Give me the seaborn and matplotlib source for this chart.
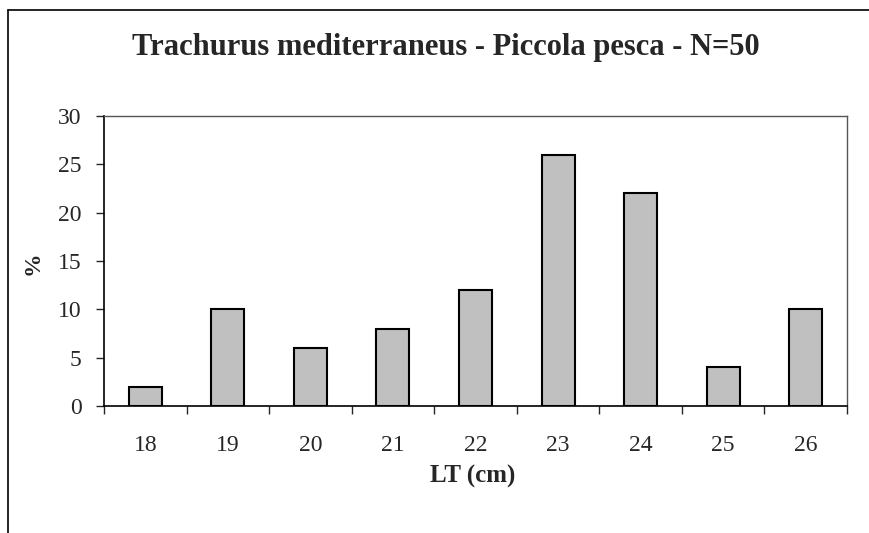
import matplotlib
matplotlib.use('Agg')
import matplotlib.pyplot as plt
import seaborn as sns
import pandas as pd
from matplotlib.lines import Line2D

lunghezze = ['18', '19', '20', '21', '22', '23', '24', '25', '26']
percentuali = [2, 10, 6, 8, 12, 26, 22, 4, 10]

df = pd.DataFrame({'LT': lunghezze, 'perc': percentuali})

sns.set_style('white')
plt.rcParams['font.family'] = ['Liberation Serif', 'DejaVu Serif']

fig = plt.figure(figsize=(8.69, 5.33), dpi=100)
ax = fig.add_axes([104 / 869, 127 / 533, 743 / 869, 290 / 533])

sns.barplot(data=df, x='LT', y='perc', color='#C0C0C0', edgecolor='black',
            linewidth=1.5, width=0.4, saturation=1, ax=ax)

ax.set_xlim(-0.5, len(lunghezze) - 0.5)
ax.set_ylim(0, 30)
ax.set_yticks(range(0, 31, 5))
ax.tick_params(axis='y', labelsize=17, length=6, width=1, direction='out',
               pad=10, left=True)

# tick at category boundaries, labels at the centres
ax.set_xticks([i - 0.5 for i in range(len(lunghezze) + 1)])
ax.set_xticklabels([])
ax.set_xticks(range(len(lunghezze)), minor=True)
ax.set_xticklabels(lunghezze, minor=True)
ax.tick_params(axis='x', which='major', length=6, width=1, direction='out', bottom=True)
ax.tick_params(axis='x', which='minor', length=0, labelsize=17, pad=21)

for s in ['left', 'bottom']:
    ax.spines[s].set_color('black')
    ax.spines[s].set_linewidth(1.2)
for s in ['top', 'right']:
    ax.spines[s].set_color('#555555')
    ax.spines[s].set_linewidth(1)

ax.set_xlabel('')
ax.set_ylabel('')
fig.text(446 / 869, 1 - 47 / 533, 'Trachurus mediterraneus - Piccola pesca - N=50',
         ha='center', va='center', fontsize=22, fontweight='bold')
fig.text(473 / 869, 1 - 476 / 533, 'LT (cm)', ha='center', va='center',
         fontsize=18, fontweight='bold')
fig.text(33 / 869, 1 - 263 / 533, '%', ha='center', va='center', rotation=90,
         fontsize=17, fontweight='bold')

# outer chart-area frame (only top and left visible)
fig.add_artist(Line2D([8 / 869, 1], [1 - 10 / 533, 1 - 10 / 533],
                      transform=fig.transFigure, color='black', linewidth=1.2))
fig.add_artist(Line2D([8 / 869, 8 / 869], [0, 1 - 10 / 533],
                      transform=fig.transFigure, color='black', linewidth=1.2))

fig.savefig('out.png', dpi=100)
